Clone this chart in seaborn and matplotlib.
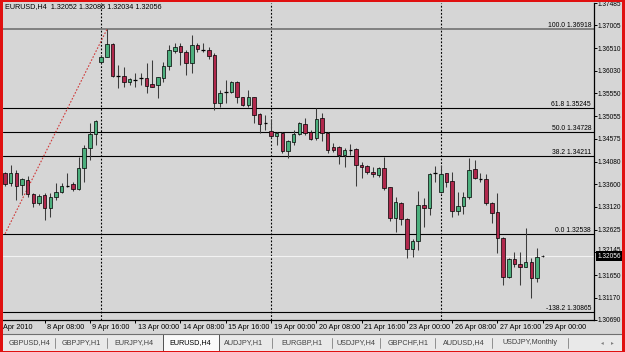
import matplotlib
matplotlib.use("Agg")
import matplotlib.pyplot as plt
import matplotlib.transforms as mtransforms
from matplotlib.patches import Rectangle
from matplotlib.lines import Line2D
import numpy as np
import pandas as pd
import seaborn as sns

# ---------------- data ----------------
opens = [1.3384, 1.3363, 1.3384, 1.3358, 1.3369, 1.3339, 1.3320, 1.3337, 1.3309, 1.3333,
         1.3343, 1.3356, 1.3361, 1.3350, 1.3395, 1.3438, 1.3468, 1.3622, 1.3633, 1.3661,
         1.3592, 1.3592, 1.3579, 1.3583, 1.3588, 1.3588, 1.3575, 1.3573, 1.3588, 1.3613,
         1.3646, 1.3656, 1.3643, 1.3620, 1.3658, 1.3648, 1.3648, 1.3637, 1.3534, 1.3558,
         1.3558, 1.3579, 1.3547, 1.3530, 1.3547, 1.3511, 1.3491, 1.3474, 1.3463, 1.3470,
         1.3431, 1.3451, 1.3468, 1.3489, 1.3472, 1.3459, 1.3502, 1.3470, 1.3440, 1.3440,
         1.3423, 1.3433, 1.3436, 1.3401, 1.3399, 1.3386, 1.3380, 1.3395, 1.3354, 1.3288,
         1.3320, 1.3285, 1.3221, 1.3238, 1.3315, 1.3309, 1.3384, 1.3343, 1.3384, 1.3367,
         1.3303, 1.3313, 1.3333, 1.3393, 1.3371, 1.3371, 1.3320, 1.3300, 1.3245, 1.3161,
         1.3200, 1.3189, 1.3183, 1.3193, 1.3159, 1.32052]
highs = [1.3386, 1.3401, 1.3391, 1.3373, 1.3378, 1.3341, 1.3339, 1.3341, 1.3341, 1.3363,
         1.3363, 1.3384, 1.3365, 1.3418, 1.3444, 1.3491, 1.3498, 1.3637, 1.3692, 1.3663,
         1.3616, 1.3611, 1.3588, 1.3598, 1.3598, 1.3620, 1.3626, 1.3590, 1.3622, 1.3658,
         1.3663, 1.3663, 1.3648, 1.3680, 1.3663, 1.3663, 1.3654, 1.3641, 1.3562, 1.3583,
         1.3581, 1.3581, 1.3547, 1.3562, 1.3547, 1.3513, 1.3508, 1.3500, 1.3472, 1.3472,
         1.3455, 1.3476, 1.3493, 1.3502, 1.3476, 1.3523, 1.3513, 1.3472, 1.3448, 1.3442,
         1.3438, 1.3446, 1.3438, 1.3408, 1.3401, 1.3397, 1.3397, 1.3418, 1.3354, 1.3333,
         1.3322, 1.3288, 1.3243, 1.3345, 1.3330, 1.3384, 1.3399, 1.3401, 1.3384, 1.3386,
         1.3343, 1.3343, 1.3416, 1.3412, 1.3384, 1.3382, 1.3322, 1.3341, 1.3247, 1.3202,
         1.3215, 1.3215, 1.3266, 1.3202, 1.3223, 1.32085]
lows = [1.3356, 1.3356, 1.3326, 1.3337, 1.3333, 1.3311, 1.3315, 1.3283, 1.3290, 1.3326,
        1.3341, 1.3354, 1.3345, 1.3348, 1.3365, 1.3412, 1.3444, 1.3620, 1.3632, 1.3590,
        1.3566, 1.3568, 1.3573, 1.3568, 1.3573, 1.3556, 1.3568, 1.3545, 1.3579, 1.3605,
        1.3641, 1.3616, 1.3594, 1.3598, 1.3643, 1.3643, 1.3628, 1.3519, 1.3526, 1.3534,
        1.3556, 1.3534, 1.3528, 1.3526, 1.3491, 1.3470, 1.3476, 1.3459, 1.3444, 1.3427,
        1.3416, 1.3444, 1.3466, 1.3466, 1.3455, 1.3455, 1.3453, 1.3427, 1.3429, 1.3403,
        1.3397, 1.3423, 1.3356, 1.3373, 1.3382, 1.3376, 1.3376, 1.3348, 1.3281, 1.3258,
        1.3273, 1.3202, 1.3204, 1.3219, 1.3268, 1.3294, 1.3365, 1.3341, 1.3354, 1.3290,
        1.3294, 1.3296, 1.3328, 1.3371, 1.3365, 1.3315, 1.3277, 1.3213, 1.3144, 1.3159,
        1.3183, 1.3144, 1.3183, 1.3116, 1.3150, 1.32034]
closes = [1.3361, 1.3384, 1.3356, 1.3371, 1.3339, 1.3320, 1.3335, 1.3309, 1.3333, 1.3343,
          1.3356, 1.3356, 1.3350, 1.3395, 1.3438, 1.3468, 1.3496, 1.3633, 1.3661, 1.3592,
          1.3592, 1.3579, 1.3586, 1.3583, 1.3588, 1.3571, 1.3568, 1.3590, 1.3613, 1.3648,
          1.3654, 1.3643, 1.3620, 1.3658, 1.3650, 1.3648, 1.3635, 1.3534, 1.3556, 1.3558,
          1.3579, 1.3547, 1.3530, 1.3547, 1.3508, 1.3489, 1.3491, 1.3463, 1.3470, 1.3431,
          1.3453, 1.3468, 1.3491, 1.3470, 1.3457, 1.3500, 1.3470, 1.3433, 1.3433, 1.3423,
          1.3433, 1.3433, 1.3401, 1.3397, 1.3386, 1.3382, 1.3395, 1.3352, 1.3288, 1.3322,
          1.3285, 1.3221, 1.3238, 1.3315, 1.3309, 1.3382, 1.3384, 1.3382, 1.3365, 1.3303,
          1.3313, 1.3333, 1.3391, 1.3373, 1.3371, 1.3320, 1.3298, 1.3245, 1.3161, 1.3200,
          1.3189, 1.3183, 1.3193, 1.3159, 1.3204, 1.32056]

time_tick_bars = [7, 15, 23, 31, 39, 47, 55, 63, 71, 79, 87, 95]
time_tick_labels = ["8 Apr 08:00", "9 Apr 16:00", "13 Apr 00:00", "14 Apr 08:00",
                    "15 Apr 16:00", "19 Apr 00:00", "20 Apr 08:00", "21 Apr 16:00",
                    "23 Apr 00:00", "26 Apr 08:00", "27 Apr 16:00", "29 Apr 00:00"]
first_date_label = "Apr 2010"
price_ticks = [1.37485, 1.37005, 1.36510, 1.36030, 1.35550, 1.35055, 1.34575, 1.34080,
               1.33600, 1.33120, 1.32625, 1.32145, 1.31650, 1.31170, 1.30690]
fib_levels = ["100.0", "61.8", "50.0", "38.2", "0.0", "-138.2"]
fib_prices = [1.36918, 1.35245, 1.34728, 1.34211, 1.32538, 1.30865]
week_separators = [17, 47, 77]
trend_bars = [0, 18]
trend_prices = [1.32538, 1.36918]
header = "EURUSD,H4  1.32052 1.32085 1.32034 1.32056"
current_price = 1.32056
tab_names = ["GBPUSD,H4", "GBPJPY,H1", "EURJPY,H4", "EURUSD,H4", "AUDJPY,H1",
             "EURGBP,H1", "USDJPY,H4", "GBPCHF,H1", "AUDUSD,H4", "USDJPY,Monthly"]
active_tab = "EURUSD,H4"

# ---------------- style ----------------
sns.set_theme(style="white")
plt.rcParams["font.family"] = ["Liberation Sans", "DejaVu Sans"]
FS = 5.2
FSY = 4.7
BG = "#d6d6d6"
UP = "#4caf7d"
DOWN = "#b0284c"

W, H = 625, 352
fig = plt.figure(figsize=(W / 100, H / 100), dpi=100)
fig.patch.set_facecolor(BG)

# axes: x px 3..594, y px 3..320
ax = fig.add_axes([3 / W, (H - 320) / H, 591 / W, 317 / H])
ax.set_facecolor(BG)
ax.set_xlim(-0.353, 104.06)
ax.set_ylim(price_ticks[-1], price_ticks[0])

df = pd.DataFrame({"o": opens, "h": highs, "l": lows, "c": closes})
df["i"] = np.arange(len(df))
up = df[df.c > df.o]
dn = df[df.c < df.o]
dj = df[df.c == df.o]

# week separators
for b in week_separators:
    ax.axvline(b, color="black", lw=0.8, ls=(0, (1.6, 1.6)), zorder=1)

# fibo lines
for lvl, p in zip(fib_levels, fib_prices):
    col = "#7a7a7a" if lvl == "100.0" else "black"
    lw = 1.3 if lvl == "100.0" else 0.8
    ax.axhline(p, color=col, lw=lw, zorder=1)
    ax.text(0.995, p, f"{lvl} {p:.5f}", transform=ax.get_yaxis_transform(),
            ha="right", va="bottom", fontsize=4.9, color="black", zorder=6)

# current price line
ax.axhline(current_price, color="#f2f2f2", lw=0.8, zorder=1)

# trend line (fibo base)
sns.lineplot(x=trend_bars, y=trend_prices, ax=ax, color="#d03a3a", lw=0.8,
             linestyle=(0, (1.5, 1.5)), zorder=2)

# wicks
ax.vlines(df.i, df.l, df.h, colors="#3c3c3c", lw=0.75, zorder=3)
# bodies
bw = 0.62
ax.bar(up.i, up.c - up.o, bottom=up.o, width=bw, color=UP, edgecolor="black",
       linewidth=0.5, zorder=4)
ax.bar(dn.i, dn.o - dn.c, bottom=dn.c, width=bw, color=DOWN, edgecolor="black",
       linewidth=0.5, zorder=4)
ax.hlines(dj.o, dj.i - bw / 2, dj.i + bw / 2, colors="black", lw=0.9, zorder=4)

# spines
for s in ["top", "left"]:
    ax.spines[s].set_visible(False)
for s in ["right", "bottom"]:
    ax.spines[s].set_color("black")
    ax.spines[s].set_linewidth(0.9)

# price axis (the label hidden behind the current-price box is drawn nudged up)
ax.yaxis.tick_right()
ax.set_yticks(price_ticks)
ax.set_yticklabels(["" if abs(p - current_price) < 0.002 else f"{p:.5f}" for p in price_ticks])
ax.tick_params(axis="y", which="both", right=True, left=False, length=2.0, width=0.7,
               direction="out", pad=0.4, labelsize=FSY, colors="black")
up_off = mtransforms.offset_copy(ax.get_yaxis_transform(), fig=fig, x=3.4, y=-2, units="dots")
for p in price_ticks:
    if abs(p - current_price) < 0.002:
        ax.text(1.0, p, f"{p:.5f}", transform=up_off, ha="left", va="bottom",
                fontsize=FSY, color="black", clip_on=False)

# time axis
ax.set_xticks(time_tick_bars)
ax.set_xticklabels([])
ax.tick_params(axis="x", which="both", bottom=True, length=2.5, width=0.7,
               direction="out", colors="black")
off = mtransforms.offset_copy(ax.get_xaxis_transform(), fig=fig, x=2.5, y=-7.5, units="dots")
for b, lab in zip(time_tick_bars, time_tick_labels):
    ax.text(b, 0, lab, transform=off, ha="left", va="center", fontsize=FS, color="black",
            clip_on=False)
fig.text(3 / W, 1 - 327.5 / H, first_date_label, ha="left", va="center", fontsize=FS,
         color="black")

# current price label box
box_off = mtransforms.offset_copy(ax.get_yaxis_transform(), fig=fig, x=3.2, y=0, units="dots")
ax.text(1.0, current_price, f"{current_price:.5f}", transform=box_off,
        ha="left", va="center", fontsize=FSY, color="white", zorder=10, clip_on=False,
        bbox=dict(boxstyle="square,pad=0.25", fc="black", ec="black", lw=0))

# header
fig.text(5 / W, 1 - 7 / H, header, ha="left", va="center", fontsize=FS, color="black")

# tab bar
fig.add_artist(Rectangle((0, 0), 1, 18 / H, transform=fig.transFigure,
                         facecolor="#e9e9e9", edgecolor="none", zorder=0))
fig.add_artist(Line2D([0, 1], [1 - 334 / H, 1 - 334 / H], transform=fig.transFigure,
                      color="#707070", lw=0.8))
tab_centers = [30, 81, 134, 190, 244, 302, 356, 408, 464, 530]
tab_seps = [55, 107, 272, 332, 380, 435, 492, 568]
fig.add_artist(Rectangle((163 / W, 1 / H), 56 / W, 17 / H, transform=fig.transFigure,
                         facecolor="#fafafa", edgecolor="#505050", lw=0.7, zorder=1))
for cx, name in zip(tab_centers, tab_names):
    fig.text(cx / W, 1 - 343 / H, name, ha="center", va="center", fontsize=FS,
             color="black" if name == active_tab else "#404040", zorder=3)
for sx in tab_seps:
    fig.add_artist(Line2D([sx / W, sx / W], [1 - 348 / H, 1 - 338 / H],
                          transform=fig.transFigure, color="#808080", lw=0.6))
fig.text(602 / W, 1 - 343 / H, "◂", ha="center", va="center", fontsize=4,
         color="#808080", family="DejaVu Sans")
fig.text(612 / W, 1 - 343 / H, "▸", ha="center", va="center", fontsize=4,
         color="#808080", family="DejaVu Sans")

# red window frame
for (x0, y0, w, h) in [(0, 0, 2.5, H), (0, H - 1.5, W, 1.5), (W - 3, 0, 3, H), (0, 0, W, 1.5)]:
    fig.add_artist(Rectangle((x0 / W, 1 - (y0 + h) / H), w / W, h / H,
                             transform=fig.transFigure, facecolor="#e01010",
                             edgecolor="none", zorder=20))

fig.savefig("out.png", dpi=100, facecolor=fig.get_facecolor())
